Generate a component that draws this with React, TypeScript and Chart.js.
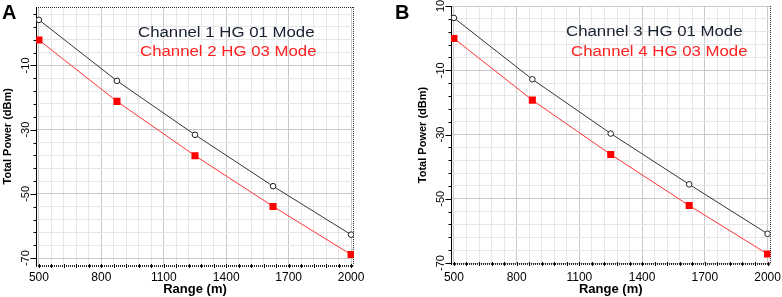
import { useEffect, useRef } from 'react';
import { Chart, registerables } from 'chart.js';

Chart.register(...registerables);

// ---- data ----
const rangeM = [500, 875, 1250, 1625, 2000];
const ch1Power = [4.2, -14.8, -31.6, -47.6, -62.7];
const ch2Power = [-2.1, -21.2, -38.1, -53.9, -68.9];
const ch3Power = [6.3, -12.8, -29.7, -45.5, -60.9];
const ch4Power = [-0.1, -19.3, -36.2, -52.1, -67.2];
const ch1Label = 'Channel 1 HG 01 Mode';
const ch2Label = 'Channel 2 HG 03 Mode';
const ch3Label = 'Channel 3 HG 01 Mode';
const ch4Label = 'Channel 4 HG 03 Mode';
const xMajorTicks = [500, 800, 1100, 1400, 1700, 2000];
const yMajorTicks = [-70, -50, -30, -10, 10];
const xTitle = 'Range (m)';
const yTitle = 'Total Power (dBm)';

const FONT = '"Liberation Sans", Arial, Helvetica, sans-serif';

function subdivide(majors: number[], parts: number, max: number) {
  const out: number[] = [];
  const step = (majors[1] - majors[0]) / parts;
  for (let v = majors[0]; v <= max + 1e-9; v += step) out.push(Math.round(v * 1000) / 1000);
  return out;
}

const xTickValues = subdivide(xMajorTicks, 5, xMajorTicks[xMajorTicks.length - 1]);

type Panel = {
  letter: string;
  letterLeft: number;
  left: number;
  width: number;
  areaTop: number;
  xAxisHeight: number;
  areaRight: number;
  yMin: number;
  yMax: number;
  topBorder: boolean;
  xLabelPad: number;
  legend: [number, number][];
  black: number[];
  red: number[];
  blackLabel: string;
  redLabel: string;
};

const panels: Panel[] = [
  {
    letter: 'A', letterLeft: 2, left: 0, width: 390, areaTop: 7, xAxisHeight: 31.5, areaRight: 354,
    yMin: -72.3, yMax: 8.2, topBorder: true, xLabelPad: 4.9,
    legend: [[138, 33], [140, 52]],
    black: ch1Power, red: ch2Power, blackLabel: ch1Label, redLabel: ch2Label,
  },
  {
    letter: 'B', letterLeft: 395, left: 415, width: 367, areaTop: 6, xAxisHeight: 33, areaRight: 355.5,
    yMin: -70.3, yMax: 10, topBorder: false, xLabelPad: 6.2,
    legend: [[151, 31.7], [156, 51.7]],
    black: ch3Power, red: ch4Power, blackLabel: ch3Label, redLabel: ch4Label,
  },
];

const decorPlugin = {
  id: 'decor',
  beforeDatasetsDraw(chart: any, _args: any, opts: any) {
    const { ctx, chartArea } = chart;
    const { left, right, top, bottom } = chartArea;
    const xs = chart.scales.x;
    const ys = chart.scales.y;
    ctx.save();
    // dotted borders
    ctx.strokeStyle = '#2a2a2a';
    ctx.lineWidth = 1;
    ctx.setLineDash([1, 1]);
    if (opts.topBorder) {
      ctx.beginPath();
      ctx.moveTo(left, Math.round(top) + 0.5);
      ctx.lineTo(right, Math.round(top) + 0.5);
      ctx.stroke();
    }
    ctx.beginPath();
    ctx.moveTo(Math.round(right) - 0.5, top);
    ctx.lineTo(Math.round(right) - 0.5, bottom);
    ctx.stroke();
    ctx.lineWidth = 2;
    ctx.beginPath();
    ctx.moveTo(left, Math.round(bottom));
    ctx.lineTo(right, Math.round(bottom));
    ctx.stroke();
    ctx.setLineDash([]);
    // bottom tick marks
    ctx.lineWidth = 1;
    ctx.strokeStyle = '#000';
    xs.ticks.forEach((t: any) => {
      const x = Math.round(xs.getPixelForValue(t.value)) + 0.5;
      ctx.beginPath();
      ctx.moveTo(x, Math.round(bottom) - 2);
      ctx.lineTo(x, Math.round(bottom) + 2);
      ctx.stroke();
    });
    // left axis line + ticks
    const lx = Math.round(left) + 0.5;
    ctx.beginPath();
    ctx.moveTo(lx, top);
    ctx.lineTo(lx, bottom + 1);
    ctx.stroke();
    ys.ticks.forEach((t: any) => {
      const y = Math.round(ys.getPixelForValue(t.value)) + 0.5;
      const len = yMajorTicks.includes(t.value) ? 6 : 3;
      ctx.beginPath();
      ctx.moveTo(lx - len, y);
      ctx.lineTo(lx, y);
      ctx.stroke();
    });
    ctx.restore();
  },
  afterDatasetsDraw(chart: any, _args: any, opts: any) {
    const { ctx } = chart;
    ctx.save();
    ctx.font = '14px ' + FONT;
    ctx.textBaseline = 'middle';
    ctx.textAlign = 'left';
    chart.data.datasets.forEach((ds: any, i: number) => {
      const pos = opts.legend[i];
      if (!pos) return;
      ctx.save();
      ctx.translate(pos[0], pos[1]);
      ctx.scale(1.2, 1);
      ctx.fillStyle = ds.legendColor;
      ctx.fillText(ds.label, 0, 0);
      ctx.restore();
    });
    ctx.restore();
  },
};

function PanelChart({ p }: { p: Panel }) {
  const ref = useRef<HTMLCanvasElement | null>(null);
  useEffect(() => {
    if (!ref.current) return;
    const yTickValues = subdivide(yMajorTicks, 5, p.yMax);
    const chart = new Chart(ref.current, {
      type: 'line',
      data: {
        datasets: [
          {
            label: p.blackLabel,
            data: rangeM.map((x, i) => ({ x, y: p.black[i] })),
            borderColor: '#333333',
            borderWidth: 1,
            pointStyle: 'circle',
            pointRadius: 2.8,
            pointBackgroundColor: '#ffffff',
            pointBorderColor: '#222222',
            pointBorderWidth: 1,
            tension: 0,
            legendColor: '#18212f',
          } as any,
          {
            label: p.redLabel,
            data: rangeM.map((x, i) => ({ x, y: p.red[i] })),
            borderColor: '#ff3333',
            borderWidth: 1,
            pointStyle: 'rect',
            pointRadius: 5,
            pointBackgroundColor: '#ff0000',
            pointBorderColor: '#ff0000',
            pointBorderWidth: 0,
            tension: 0,
            legendColor: '#ff2020',
          } as any,
        ],
      },
      options: {
        animation: false,
        responsive: false,
        devicePixelRatio: 1,
        layout: { padding: { left: 0, top: p.areaTop, right: p.width - p.areaRight, bottom: 0 } },
        plugins: {
          legend: { display: false },
          tooltip: { enabled: false },
          decor: { topBorder: p.topBorder, legend: p.legend },
        } as any,
        scales: {
          x: {
            type: 'linear',
            min: 486,
            max: 2014,
            afterBuildTicks: (s: any) => { s.ticks = xTickValues.map((v) => ({ value: v })); },
            afterFit: (s: any) => {
              s.height = p.xAxisHeight;
              s.paddingLeft = 0; s.paddingRight = 0; s.paddingTop = 0; s.paddingBottom = 0;
            },
            border: { display: false },
            grid: {
              drawTicks: false,
              color: (c: any) => (c.tick && xMajorTicks.includes(c.tick.value) ? '#c8c8c8' : '#e6e6e6'),
              lineWidth: 1,
            },
            ticks: {
              autoSkip: false,
              maxRotation: 0,
              minRotation: 0,
              padding: p.xLabelPad,
              color: '#000',
              font: { family: FONT, size: 12 },
              callback: (v: any) => (xMajorTicks.includes(Number(v)) ? String(v) : ''),
            },
            title: {
              display: true,
              text: xTitle,
              color: '#000',
              font: { family: FONT, size: 13, weight: 'bold' },
              padding: { top: 0, bottom: 0 },
            },
          },
          y: {
            type: 'linear',
            min: p.yMin,
            max: p.yMax,
            afterBuildTicks: (s: any) => { s.ticks = yTickValues.map((v) => ({ value: v })); },
            afterFit: (s: any) => {
              s.width = 36;
              s.paddingLeft = 0; s.paddingRight = 0; s.paddingTop = 0; s.paddingBottom = 0;
            },
            border: { display: false },
            grid: {
              drawTicks: false,
              color: (c: any) => (c.tick && yMajorTicks.includes(c.tick.value) ? '#c8c8c8' : '#e6e6e6'),
              lineWidth: 1,
            },
            ticks: {
              autoSkip: false,
              minRotation: 90,
              maxRotation: 90,
              crossAlign: 'center',
              padding: 2.5,
              color: '#000',
              font: { family: FONT, size: 11 },
              callback: (v: any) => (yMajorTicks.includes(Number(v)) ? String(v) : ''),
            },
            title: {
              display: true,
              text: yTitle,
              color: '#000',
              font: { family: FONT, size: 11, weight: 'bold' },
              padding: { top: 1.4, bottom: 0 },
            },
          },
        },
      },
      plugins: [decorPlugin as any],
    });
    return () => chart.destroy();
  }, [p]);
  return (
    <canvas
      ref={ref}
      width={p.width}
      height={297}
      style={{ position: 'absolute', left: p.left, top: 0, width: p.width, height: 297 }}
    />
  );
}

export default function App() {
  useEffect(() => {
    document.body.style.margin = '0';
  }, []);
  return (
    <div style={{ position: 'relative', width: 782, height: 297, background: '#fff', overflow: 'hidden' }}>
      {panels.map((p) => (
        <PanelChart key={p.letter} p={p} />
      ))}
      {panels.map((p) => (
        <div
          key={'l' + p.letter}
          style={{
            position: 'absolute',
            left: p.letterLeft,
            top: 2,
            fontFamily: FONT,
            fontWeight: 'bold',
            fontSize: 20,
            lineHeight: '20px',
            color: '#000',
          }}
        >
          {p.letter}
        </div>
      ))}
    </div>
  );
}
